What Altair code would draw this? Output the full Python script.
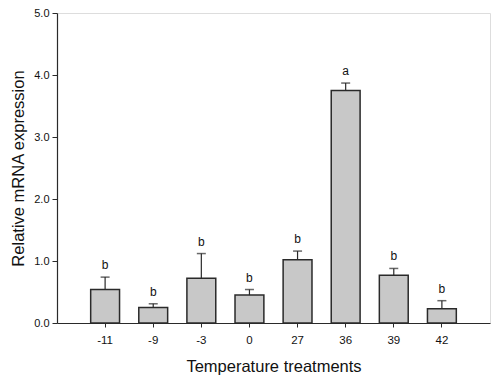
import altair as alt
import pandas as pd

categories = ["-11", "-9", "-3", "0", "27", "36", "39", "42"]
means = [0.54, 0.25, 0.72, 0.45, 1.02, 3.75, 0.77, 0.23]
upper = [0.74, 0.31, 1.12, 0.54, 1.16, 3.87, 0.88, 0.36]
letters = ["b", "b", "b", "b", "b", "a", "b", "b"]
y_ticks = [0, 1, 2, 3, 4, 5]

df = pd.DataFrame({"cat": categories, "mean": means, "upper": upper, "letter": letters})

FONT = "Liberation Sans"
DARK = "#2a2a2a"

x = alt.X("cat:N", sort=categories,
          scale=alt.Scale(paddingInner=0.4, paddingOuter=0.7),
          axis=alt.Axis(title="Temperature treatments", labelAngle=0,
                        labelFontSize=11.5, labelColor="#111", labelFont=FONT,
                        labelPadding=7, tickSize=4, tickColor=DARK, domainColor=DARK,
                        domainWidth=1.2, tickWidth=1,
                        titleFont=FONT, titleFontSize=16.5, titleFontWeight="normal",
                        titleColor="#111", titlePadding=13))
y_scale = alt.Scale(domain=[0, 5], nice=False)
y_axis = alt.Axis(title="Relative mRNA expression", values=y_ticks, format=".1f",
                  labelFontSize=11, labelColor="#111", labelFont=FONT,
                  labelPadding=3, tickSize=5, tickColor=DARK, domainColor=DARK,
                  domainWidth=1.2, tickWidth=1, grid=False,
                  titleFont=FONT, titleFontSize=16.5, titleFontWeight="normal",
                  titleColor="#111", titlePadding=7)

base = alt.Chart(df)

bars = base.mark_bar(fill="#c8c8c8", stroke=DARK, strokeWidth=1.5).encode(
    x=x, y=alt.Y("mean:Q", scale=y_scale, axis=y_axis))

err = base.mark_rule(color=DARK, strokeWidth=1.2).encode(
    x=alt.X("cat:N", sort=categories), y=alt.Y("mean:Q"), y2="upper:Q")

caps = base.mark_tick(color=DARK, thickness=1.5, size=9, orient="horizontal").encode(
    x=alt.X("cat:N", sort=categories), y=alt.Y("upper:Q"))

labels = base.mark_text(font=FONT, fontSize=12, fill="#111111", baseline="bottom", dy=-5).encode(
    x=alt.X("cat:N", sort=categories), y=alt.Y("upper:Q"), text="letter:N")

chart = alt.layer(bars, err, caps, labels).properties(
    width=433, height=310,
    autosize=alt.AutoSizeParams(type="none"),
    padding={"left": 49, "top": 5, "right": 2, "bottom": 54},
).configure_view(stroke=None).configure(background="white")

chart.save("out.html", embed_options={"renderer": "svg", "actions": False})
